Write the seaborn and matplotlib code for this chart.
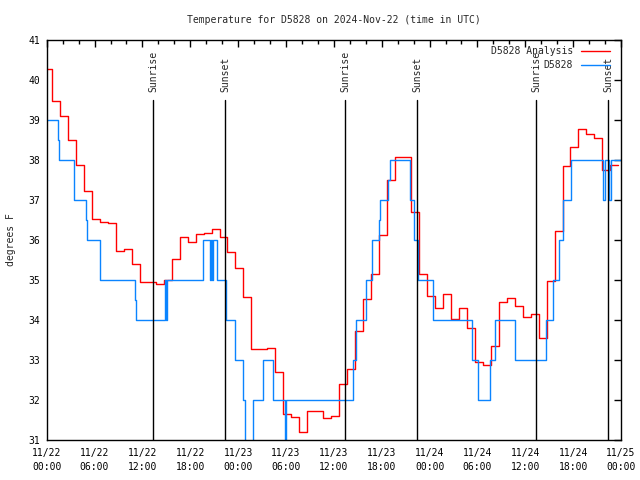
#%% MODULE BEGINS
module_name = 'd5828_temperature'
'''
Description:
Step plot of the D5828 temperature (analysis vs. station) for 2024-Nov-22,
with sunrise / sunset markers.
'''

#%% IMPORTS ~~~~~~~~~~~~~~~~~~~~~~~~~~~~~~~~~~~~~~~~~~~~
import matplotlib
matplotlib.use('Agg')
import matplotlib.pyplot as plt
import matplotlib.dates as mdates
import matplotlib.transforms as mtrans
import pandas as pd
import seaborn as sns

#%% DATA ~~~~~~~~~~~~~~~~~~~~~~~~~~~~~~~~~~~~~~~~~~~~
start = pd.Timestamp('2024-11-22 00:00')
end = pd.Timestamp('2024-11-25 00:00')

# analysis, hourly values (first one valid from 11/21 23:40)
analysis_start = '2024-11-21 23:40'
analysis_temp = [40.27, 39.48, 39.11, 38.50, 37.87, 37.22, 36.52, 36.44, 36.42,
                 35.72, 35.77, 35.39, 34.94, 34.94, 34.89, 35.00, 35.53, 36.07,
                 35.94, 36.14, 36.17, 36.28, 36.08, 35.71, 35.30, 34.58, 33.27,
                 33.27, 33.29, 32.71, 31.64, 31.58, 31.19, 31.72, 31.72, 31.56,
                 31.61, 32.39, 32.77, 33.73, 34.52, 35.14, 36.12, 37.50, 38.08,
                 38.07, 36.71, 35.14, 34.60, 34.29, 34.64, 34.02, 34.29, 33.81,
                 32.94, 32.88, 33.35, 34.44, 34.56, 34.36, 34.08, 34.15, 33.54,
                 34.97, 36.22, 37.85, 38.33, 38.77, 38.64, 38.54, 37.75, 37.87,
                 37.87]

# station observations: hours after 11/22 00:00 and temperature
obs_hours = [0.0, 1.42, 1.5, 3.42, 4.92, 5.0, 6.67, 11.1, 11.23, 14.86, 14.96,
             15.06, 19.62, 20.45, 20.54, 20.7, 20.8, 21.37, 22.45, 22.51, 23.58,
             24.63, 24.88, 25.88, 27.13, 28.39, 29.86, 30.05, 38.4, 38.73,
             40.07, 40.73, 41.66, 41.82, 42.74, 42.99, 45.49, 46.0, 46.49,
             48.42, 53.26, 53.38, 54.13, 55.6, 56.26, 58.69, 58.77, 62.57,
             63.52, 64.2, 64.7, 65.7, 69.71, 69.96, 70.46, 70.71, 72.0]
obs_temp = [39, 38.5, 38, 37, 36.5, 36, 35, 34.5, 34, 35, 34,
            35, 36, 35, 36, 35, 36, 35, 34.5, 34, 33,
            32, 30, 32, 33, 32, 30, 32, 33, 34,
            35, 36, 36.5, 37, 37.5, 38, 37, 36, 35,
            34, 33.5, 33, 32, 33, 34, 33.5, 33, 34,
            35, 36, 37, 38, 37, 38, 37, 38, 38]

sun_times = ['2024-11-22 13:22', '2024-11-22 22:24', '2024-11-23 13:26',
             '2024-11-23 22:28', '2024-11-24 13:23', '2024-11-24 22:25']
sun_labels = ['Sunrise', 'Sunset', 'Sunrise', 'Sunset', 'Sunrise', 'Sunset']

#%% MAIN CODE ~~~~~~~~~~~~~~~~~~~~~~~~~~~~~~~~~~~~~~~~~~~~
def main():
    sns.set_style('white')
    plt.rcParams['font.family'] = ['DejaVu Sans Mono']
    fs = 7

    analysis = pd.DataFrame({
        'time': pd.date_range(analysis_start, periods=len(analysis_temp), freq='h'),
        'temp': analysis_temp})
    obs = pd.DataFrame({
        'time': start + pd.to_timedelta(obs_hours, unit='h'),
        'temp': obs_temp})

    fig = plt.figure(figsize=(6.4, 4.8), dpi=100)
    ax = fig.add_axes([46.7 / 640, 40 / 480, 574.3 / 640, 400 / 480])

    sns.lineplot(data=analysis, x='time', y='temp', ax=ax, color='#ff0000',
                 lw=1.0, drawstyle='steps-post', estimator=None,
                 label='D5828 Analysis')
    sns.lineplot(data=obs, x='time', y='temp', ax=ax, color='#0a84ff',
                 lw=1.0, drawstyle='steps-post', estimator=None,
                 label='D5828')

    # sunrise / sunset markers
    trans = mtrans.blended_transform_factory(ax.transData, ax.transAxes)
    for t, lab in zip(pd.to_datetime(sun_times), sun_labels):
        ax.axvline(t, ymin=0, ymax=0.85, color='black', lw=1.0)
        ax.text(t, 0.87, lab, rotation=90, ha='center', va='bottom',
                transform=trans, fontsize=fs)

    ax.set_xlim(start, end)
    ax.set_ylim(31, 41)
    ax.set_yticks(range(31, 42))
    ax.xaxis.set_major_locator(mdates.HourLocator(byhour=[0, 6, 12, 18]))
    ax.xaxis.set_minor_locator(mdates.HourLocator(interval=2))
    ax.xaxis.set_major_formatter(mdates.DateFormatter('%m/%d\n%H:%M'))
    ax.tick_params(axis='both', which='both', direction='in', top=True,
                   right=True, labelsize=fs, colors='black')
    ax.tick_params(axis='both', which='major', length=5, width=1)
    ax.tick_params(axis='x', which='minor', length=3, width=1)
    ax.tick_params(axis='x', which='major', pad=6)
    ax.tick_params(axis='y', which='major', pad=5)
    for sp in ax.spines.values():
        sp.set_color('black')
        sp.set_linewidth(1.0)
    plt.setp(ax.get_xticklabels(), linespacing=1.5)

    ax.set_xlabel('')
    ax.set_ylabel('degrees F', fontsize=fs, labelpad=9)
    ax.set_title('Temperature for D5828 on 2024-Nov-22 (time in UTC)',
                 fontsize=fs, pad=12)

    ax.legend(loc='upper right', bbox_to_anchor=(0.981, 0.985), frameon=False,
              markerfirst=False, fontsize=fs, borderpad=0, borderaxespad=0,
              handlelength=3.0, handletextpad=0.8, labelspacing=0.45)

    fig.savefig('out.png', dpi=100)


#%% SELF-RUN ~~~~~~~~~~~~~~~~~~~~~~~~~~~~~~~~~~~~~~~~~~~~
if __name__ == "__main__":
    main()
